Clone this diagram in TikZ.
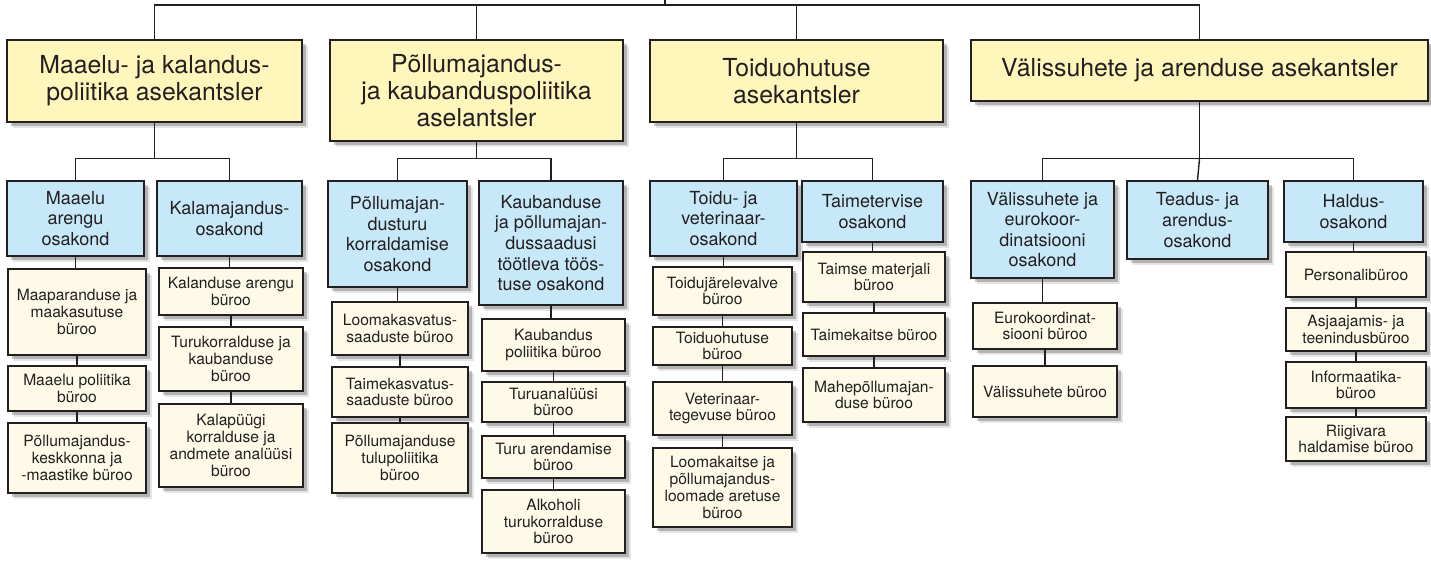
\documentclass[tikz,border=0pt]{standalone}
\usepackage{fontspec}
\setmainfont{TeX Gyre Heros}
\usetikzlibrary{shadows}
\definecolor{kantsler}{RGB}{255,246,188}
\definecolor{osakond}{RGB}{199,232,249}
\definecolor{byroo}{RGB}{254,250,232}
\definecolor{joon}{RGB}{35,31,32}

\begin{document}
\begin{tikzpicture}[x=0.5pt, y=-0.5pt,
    box/.style={draw=joon, line width=0.8pt, inner sep=1pt, align=center, text=joon,
      drop shadow={shadow xshift=2.8pt, shadow yshift=-3.2pt, fill=black, opacity=.1},
      drop shadow={shadow xshift=1.8pt, shadow yshift=-2.2pt, fill=black, opacity=.22}},
    kant/.style={box, fill=kantsler, font=\fontsize{12.4}{13.6}\selectfont},
    osak/.style={box, fill=osakond, font=\fontsize{9}{10.3}\selectfont},
    buro/.style={box, fill=byroo, font=\fontsize{7.8}{8.4}\selectfont},
    link/.style={draw=joon, line width=0.7pt}]
  \useasboundingbox (0,0) rectangle (1431,561);

  % asekantslerid
  \node[kant, minimum width=147.5pt, minimum height=41pt] (kA) at (154.5,81)
    {Maaelu- ja kalandus-\\poliitika asekantsler};
  \node[kant, minimum width=146.5pt, minimum height=50.5pt] (kB) at (476.5,90.5)
    {Põllumajandus-\\ja kaubanduspoliitika\\aselantsler};
  \node[kant, minimum width=146.5pt, minimum height=41pt] (kC) at (796.5,81)
    {Toiduohutuse\\asekantsler};
  \node[kant, minimum width=228.5pt, minimum height=30.5pt] (kD) at (1199.5,70.5)
    {Välissuhete ja arenduse asekantsler};

  % osakonnad
  \node[osak, minimum width=68.5pt, minimum height=37.5pt] (oA1) at (75.5,218.5)
    {Maaelu\\arengu\\osakond};
  \node[osak, minimum width=72.5pt, minimum height=37.5pt] (oA2) at (229.5,218.5)
    {Kalamajandus-\\osakond};
  \node[osak, minimum width=69.5pt, minimum height=53pt] (oB1) at (397.5,234)
    {Põllumajan-\\dusturu\\korraldamise\\osakond};
  \node[osak, minimum width=72pt, minimum height=62pt] (oB2) at (551,243)
    {Kaubanduse\\ja põllumajan-\\dussaadusi\\töötleva töös-\\tuse osakond};
  \node[osak, minimum width=73.5pt, minimum height=37.5pt] (oC1) at (723.5,218.5)
    {Toidu- ja\\veterinaar-\\osakond};
  \node[osak, minimum width=70.5pt, minimum height=30.5pt] (oC2) at (872.5,211.5)
    {Taimetervise\\osakond};
  \node[osak, minimum width=71.5pt, minimum height=48.5pt] (oD1) at (1042.5,229.5)
    {Välissuhete ja\\eurokoor-\\dinatsiooni\\osakond};
  \node[osak, minimum width=70.5pt, minimum height=39pt] (oD2) at (1197.5,220)
    {Teadus- ja\\arendus-\\osakond};
  \node[osak, minimum width=69.5pt, minimum height=30.5pt] (oD3) at (1353.5,211.5)
    {Haldus-\\osakond};

  % bürood
  \node[buro, minimum width=69pt, minimum height=43pt] (bA11) at (77,312)
    {Maaparanduse ja\\maakasutuse\\büroo};
  \node[buro, minimum width=69pt, minimum height=22.5pt] (bA12) at (77,388.5)
    {Maaelu poliitika\\büroo};
  \node[buro, minimum width=69pt, minimum height=35pt] (bA13) at (77,458)
    {Põllumajandus-\\keskkonna ja\\-maastike büroo};
  \node[buro, minimum width=72pt, minimum height=23.5pt] (bA21) at (231,291.5)
    {Kalanduse arengu\\büroo};
  \node[buro, minimum width=72pt, minimum height=32pt] (bA22) at (231,359)
    {Turukorralduse ja\\kaubanduse\\büroo};
  \node[buro, minimum width=72pt, minimum height=41.5pt] (bA23) at (231,445.5)
    {Kalapüügi\\korralduse ja\\andmete analüüsi\\büroo};

  \node[buro, minimum width=68pt, minimum height=26.5pt] (bB11) at (400,328.5)
    {Loomakasvatus-\\saaduste büroo};
  \node[buro, minimum width=68pt, minimum height=25pt] (bB12) at (400,392)
    {Taimekasvatus-\\saaduste büroo};
  \node[buro, minimum width=68pt, minimum height=35pt] (bB13) at (400,458)
    {Põllumajanduse\\tulupoliitika\\büroo};
  \node[buro, minimum width=71.5pt, minimum height=26pt] (bB21) at (553.5,345)
    {Kaubandus\\poliitika büroo};
  \node[buro, minimum width=71.5pt, minimum height=20pt] (bB22) at (553.5,402)
    {Turuanalüüsi\\büroo};
  \node[buro, minimum width=71.5pt, minimum height=21pt] (bB23) at (553.5,457)
    {Turu arendamise\\büroo};
  \node[buro, minimum width=71.5pt, minimum height=31.5pt] (bB24) at (553.5,521.5)
    {Alkoholi\\turukorralduse\\büroo};

  \node[buro, minimum width=69.5pt, minimum height=24pt] (bC11) at (722.5,291)
    {Toidujärelevalve\\büroo};
  \node[buro, minimum width=69.5pt, minimum height=19pt] (bC12) at (722.5,346)
    {Toiduohutuse\\büroo};
  \node[buro, minimum width=69.5pt, minimum height=26.5pt] (bC13) at (722.5,408.5)
    {Veterinaar-\\tegevuse büroo};
  \node[buro, minimum width=69.5pt, minimum height=39.5pt] (bC14) at (722.5,487.5)
    {Loomakaitse ja\\põllumajandus-\\loomade aretuse\\büroo};
  \node[buro, minimum width=71pt, minimum height=25pt] (bC21) at (874,277)
    {Taimse materjali\\büroo};
  \node[buro, minimum width=71pt, minimum height=21.5pt] (bC22) at (874,334.5)
    {Taimekaitse büroo};
  \node[buro, minimum width=71pt, minimum height=27pt] (bC23) at (874,395)
    {Mahepõllumajan-\\duse büroo};

  \node[buro, minimum width=72pt, minimum height=23pt] (bD11) at (1045,326)
    {Eurokoordinat-\\siooni büroo};
  \node[buro, minimum width=72pt, minimum height=25.5pt] (bD12) at (1045,391.5)
    {Välissuhete büroo};
  \node[buro, minimum width=70pt, minimum height=22.5pt] (bD31) at (1356,274.5)
    {Personalibüroo};
  \node[buro, minimum width=70pt, minimum height=21.5pt] (bD32) at (1356,329.5)
    {Asjaajamis- ja\\teenindusbüroo};
  \node[buro, minimum width=70pt, minimum height=23pt] (bD33) at (1356,385)
    {Informaatika-\\büroo};
  \node[buro, minimum width=70pt, minimum height=22pt] (bD34) at (1356,439)
    {Riigivara\\haldamise büroo};

  % ühendused ülal
  \coordinate (top) at (665,0);
  \draw[link] (top) -- ++(0,5) coordinate (jT);
  \draw[link] (jT) -| (kA.north);
  \draw[link] (jT) -| (kB.north);
  \draw[link] (jT) -| (kC.north);
  \draw[link] (jT) -| (kD.north);

  \draw[link] (kA.south) -- ++(0,36) coordinate (jA);
  \draw[link] (jA) -| (oA1.north);
  \draw[link] (jA) -| (oA2.north);
  \draw[link] (kB.south) -- ++(0,17) coordinate (jB);
  \draw[link] (jB) -| (oB1.north);
  \draw[link] (jB) -| (oB2.north);
  \draw[link] (kC.south) -- ++(0,36) coordinate (jC);
  \draw[link] (jC) -| (oC1.north);
  \draw[link] (jC) -| (oC2.north);
  \draw[link] (kD.south) -- ++(0,57) coordinate (jD);
  \draw[link] (jD) -| (oD1.north);
  \draw[link] (jD) -- (oD2.north);
  \draw[link] (jD) -| (oD3.north);

  % osakond -> bürood
  \foreach \a/\b in {oA1/bA11, bA11/bA12, bA12/bA13, oA2/bA21, bA21/bA22, bA22/bA23,
      oB1/bB11, bB11/bB12, bB12/bB13, oB2/bB21, bB21/bB22, bB22/bB23, bB23/bB24,
      oC1/bC11, bC11/bC12, bC12/bC13, bC13/bC14, oC2/bC21, bC21/bC22, bC22/bC23,
      oD1/bD11, bD11/bD12, oD3/bD31, bD31/bD32, bD32/bD33, bD33/bD34}
    \draw[link] (\a.south) -- (\a.south |- \b.north);
\end{tikzpicture}
\end{document}
